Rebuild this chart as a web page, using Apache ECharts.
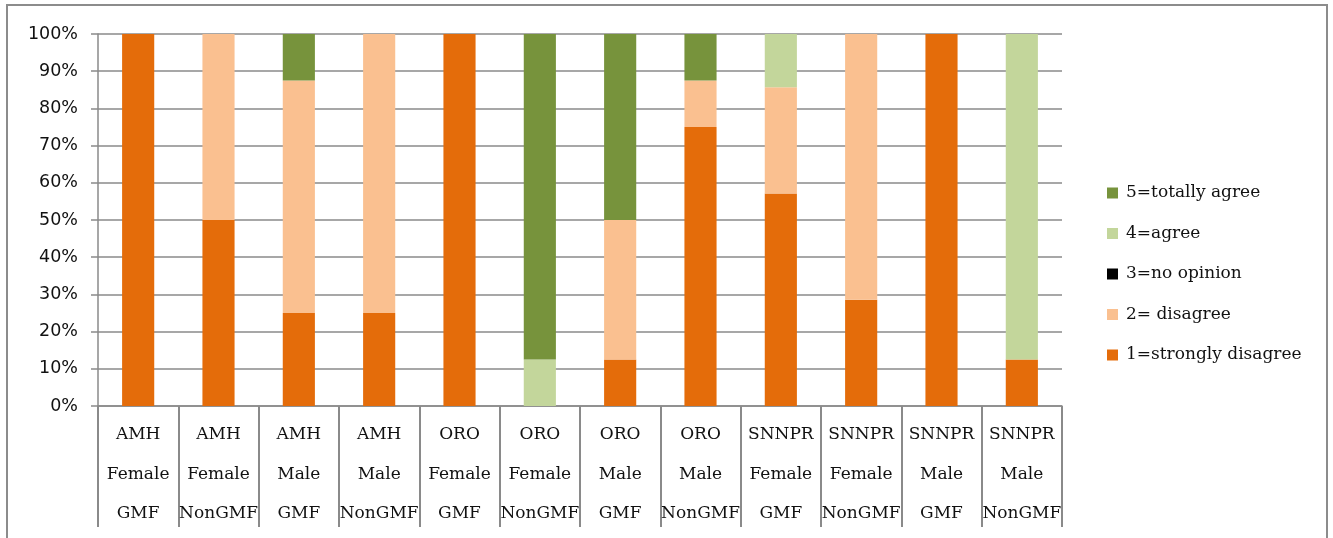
<!DOCTYPE html>
<html>
<head>
<meta charset="utf-8">
<script src="https://cdn.jsdelivr.net/npm/echarts@6/dist/echarts.min.js"></script>
<style>
  html, body { margin: 0; padding: 0; background: #fff; }
  #chart { width: 1333px; height: 538px; }
</style>
</head>
<body>
<div id="chart"></div>
<script>
// Category labels, three rows per bar
const regions = ['AMH', 'AMH', 'AMH', 'AMH', 'ORO', 'ORO', 'ORO', 'ORO', 'SNNPR', 'SNNPR', 'SNNPR', 'SNNPR'];
const sexes = ['Female', 'Female', 'Male', 'Male', 'Female', 'Female', 'Male', 'Male', 'Female', 'Female', 'Male', 'Male'];
const groups = ['GMF', 'NonGMF', 'GMF', 'NonGMF', 'GMF', 'NonGMF', 'GMF', 'NonGMF', 'GMF', 'NonGMF', 'GMF', 'NonGMF'];

// Share of answers per group (%), stacked bottom to top
const stronglyDisagree = [100, 50, 25, 25, 100, 0, 12.5, 75, 57.14, 28.57, 100, 12.5];
const disagree = [0, 50, 62.5, 75, 0, 0, 37.5, 12.5, 28.57, 71.43, 0, 0];
const noOpinion = [0, 0, 0, 0, 0, 0, 0, 0, 0, 0, 0, 0];
const agree = [0, 0, 0, 0, 0, 12.5, 0, 0, 14.29, 0, 0, 87.5];
const totallyAgree = [0, 0, 12.5, 0, 0, 87.5, 50, 12.5, 0, 0, 0, 0];

const seriesNames = ['1=strongly disagree', '2= disagree', '3=no opinion', '4=agree', '5=totally agree'];
const seriesData = [stronglyDisagree, disagree, noOpinion, agree, totallyAgree];
const seriesColors = ['#E46C0A', '#FAC090', '#000000', '#C3D69B', '#77933C'];

const categories = regions.map((r, i) => r + '\n' + sexes[i] + '\n' + groups[i]);

const serif = '"DejaVu Serif", serif';
const gridGray = '#8a8a8a';

const chart = echarts.init(document.getElementById('chart'), null, { renderer: 'canvas' });

chart.setOption({
  animation: false,
  backgroundColor: '#fff',
  graphic: [{
    type: 'rect',
    shape: { x: 7, y: 5, width: 1320, height: 560 },
    style: { fill: 'none', stroke: '#8c8c8c', lineWidth: 2 },
    silent: true
  }],
  grid: { left: 98, right: 271, top: 34, bottom: 132 },
  legend: {
    orient: 'vertical',
    left: 1102,
    top: 178,
    itemWidth: 11,
    itemHeight: 11,
    itemGap: 20.5,
    icon: 'rect',
    data: seriesNames.slice().reverse(),
    textStyle: { fontFamily: serif, fontSize: 17, color: '#111', lineHeight: 20, padding: [0, 0, 0, 3] }
  },
  xAxis: {
    type: 'category',
    data: categories,
    axisLine: { show: true, lineStyle: { color: gridGray, width: 1.5 } },
    axisTick: { show: true, interval: 0, length: 121, lineStyle: { color: gridGray, width: 2 } },
    axisLabel: {
      interval: 0,
      margin: 9,
      fontFamily: serif,
      fontSize: 17,
      lineHeight: 39.5,
      color: '#111'
    }
  },
  yAxis: {
    type: 'value',
    min: 0,
    max: 100,
    interval: 10,
    axisLine: { show: true, lineStyle: { color: gridGray, width: 1.5 } },
    axisTick: { show: true, length: 7, lineStyle: { color: gridGray, width: 1.5 } },
    splitLine: { show: true, lineStyle: { color: gridGray, width: 1.5 } },
    axisLabel: {
      formatter: '{value}%',
      margin: 20,
      fontFamily: '"DejaVu Sans", sans-serif',
      fontSize: 17.5,
      color: '#111'
    }
  },
  series: seriesNames.map((name, i) => ({
    name: name,
    type: 'bar',
    stack: 'total',
    barWidth: '40%',
    data: seriesData[i],
    itemStyle: { color: seriesColors[i] }
  }))
});
</script>
</body>
</html>
